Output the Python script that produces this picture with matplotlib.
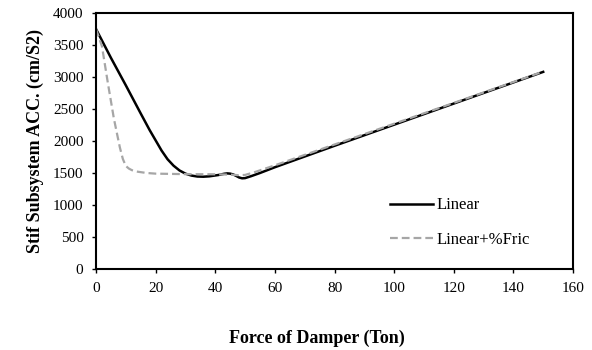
import matplotlib
matplotlib.use("Agg")
import matplotlib.pyplot as plt

# force of damper (Ton) vs stif subsystem acceleration
force_lin = [0, 5, 10, 15, 18, 20, 22, 24, 26, 28, 30, 32, 34, 36, 38, 41, 43, 44, 45, 46, 47, 48, 49, 50, 52, 55, 60, 80, 100, 120, 150]
acc_lin = [3750, 3300, 2870, 2430, 2170, 2010, 1850, 1715, 1615, 1540, 1490, 1460, 1445, 1442, 1448, 1468, 1488, 1494, 1490, 1478, 1455, 1430, 1417, 1420, 1450, 1500, 1590, 1925, 2255, 2585, 3080]

force_fric = [0, 2, 4, 6, 8, 9, 10, 11, 12, 14, 17, 20, 30, 40, 45, 48, 50, 53, 60, 80, 100, 120, 150]
acc_fric = [3750, 3480, 2900, 2350, 1900, 1720, 1610, 1570, 1545, 1520, 1500, 1490, 1482, 1480, 1475, 1465, 1470, 1510, 1620, 1945, 2270, 2595, 3085]

serif = ["Liberation Serif", "DejaVu Serif"]
plt.rcParams["font.family"] = serif

fig = plt.figure(figsize=(5.92, 3.5), dpi=100)
ax = fig.add_axes([96 / 592, 1 - 269 / 350, 477 / 592, 256 / 350])

ax.plot(force_lin, acc_lin, color="black", lw=1.8, label="Linear")
ax.plot(force_fric, acc_fric, color="#a6a6a6", lw=1.6, ls=(0, (3.5, 1.8)), label="Linear+%Fric")

ax.set_xlim(0, 160)
ax.set_ylim(0, 4000)
ax.set_xticks(range(0, 161, 20))
ax.set_yticks(range(0, 4001, 500))
ax.tick_params(labelsize=11, direction="out", length=3, width=1, pad=6)
ax.tick_params(axis="x", pad=6)
for s in ax.spines.values():
    s.set_linewidth(1.5)

ax.set_xlabel("Force of Damper (Ton)", fontsize=13, fontweight="bold", va="center")
ax.xaxis.set_label_coords((317 - 96) / 477, (269 - 338) / 256)
ax.set_ylabel("Stif Subsystem ACC. (cm/S2)", fontsize=13, fontweight="bold", va="center")
ax.yaxis.set_label_coords((35 - 96) / 477, 0.5)

leg = ax.legend(loc="center left", bbox_to_anchor=((390 - 96) / 477, (269 - 222.5) / 256),
                frameon=False, borderpad=0, borderaxespad=0,
                fontsize=12, handlelength=2.6, handletextpad=0.18, labelspacing=1.1)

fig.savefig("out.png", dpi=100)
